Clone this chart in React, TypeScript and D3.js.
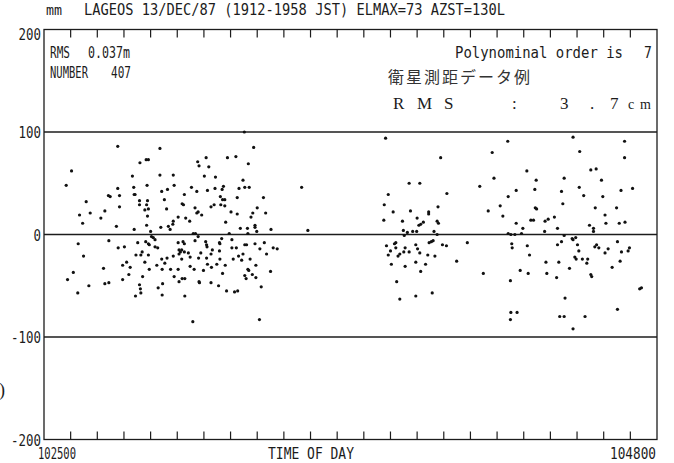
import React from "react";
import * as d3 from "d3";

// time in seconds after 10:25:00 (TIME OF DAY 102500), residual in mm
const burst1: [number, number][] = [
  [166,86],[261,84],[62,62],[216,70],[230,73],[235,73],[50,48],[199,57],[261,58],[291,58],[232,48],[293,48],[166,45],[202,46],[265,42],[278,44],[145,38],[149,37],[170,38],[203,39],[205,39],[95,32],[215,33],[233,33],[271,34],[215,29],[231,29],[170,27],[227,24],[235,25],[276,25],[80,19],[104,21],[137,23],[233,18],[128,16],[87,11],[291,13],[290,10],[163,8],[203,5],[231,9],[263,7],[280,8],[284,5],[240,3],
  [242,-2],[246,-3],[250,-5],[77,-9],[146,-6],[211,-8],[229,-7],[235,-9],[237,-10],[250,-12],[256,-13],[167,-13],[181,-12],[221,-17],[207,-20],[218,-20],[235,-20],[291,-21],[277,-23],[265,-24],[186,-27],[177,-30],[194,-32],[227,-27],[272,-28],[254,-30],[237,-34],[266,-34],[285,-34],[89,-21],[134,-33],[66,-37],[53,-44],[191,-39],[222,-41],[177,-44],[293,-41],[101,-50],[137,-48],[146,-47],[215,-49],[267,-48],[257,-52],[217,-53],[218,-57],[76,-57],[206,-60],[266,-59],
  [302,17],[302,-8],[304,-15],[304,-19],[302,-34],[304,-46],
];

const burst2: [number, number][] = [
  [472,85],[365,75],[346,71],[413,75],[432,76],[349,67],[371,66],[460,69],[361,57],[386,56],[448,53],[332,46],[344,42],[368,43],[385,45],[404,47],[401,44],[439,45],[452,46],[462,46],[316,39],[397,37],[402,34],[407,34],[435,36],[494,36],[311,30],[314,29],[340,26],[347,22],[344,21],[355,19],[376,27],[383,29],[398,29],[407,28],[421,22],[435,20],[480,26],[470,21],[499,21],[466,17],[319,16],[328,13],[409,12],[442,6],[458,6],[475,9],[475,7],[511,5],[459,1],[479,3],[451,100],
  [336,1],[341,1],[347,-2],[400,-4],[417,1],
  [313,-7],[316,-9],[340,-6],[364,-7],[366,-10],[395,-8],[396,-9],[423,-5],[452,-10],[456,-10],[475,-9],[496,-8],[310,-15],[307,-17],[316,-17],[325,-18],[367,-12],[379,-15],[395,-16],[423,-13],[433,-13],[516,-13],[525,-14],[501,-19],[486,-14],[353,-18],[310,-24],[329,-22],[348,-23],[366,-23],[376,-19],[396,-24],[426,-24],[438,-21],[448,-19],[445,-25],[464,-24],[338,-34],[329,-31],[359,-35],[368,-29],[377,-32],[389,-29],[408,-30],[459,-34],[461,-35],[477,-30],[510,-36],[349,-46],[350,-47],[376,-47],[393,-50],[402,-38],[411,-55],[429,-56],[436,-55],[452,-40],[455,-43],[469,-39],[477,-42],[489,-51],[311,-43],[317,-43],[317,-60],[335,-85],[485,-83],
];

const isolated: [number, number][] = [[580,46],[594,4]];

const burst3: [number, number][] = [
  [769,94],[893,75],[1009,80],[1013,55],[981,47],[822,50],[846,50],[775,39],[907,40],[766,29],[786,22],[825,23],[866,22],[866,20],[887,27],[1000,23],[1027,28],[765,14],[807,13],[840,16],[844,9],[848,10],[854,12],[885,13],[888,11],[809,4],[818,2],[830,3],[839,3],[878,3],[885,0],[811,-1],
  [771,-11],[789,-9],[792,-8],[792,-13],[780,-16],[775,-20],[797,-21],[801,-19],[810,-17],[813,-13],[822,-17],[837,-10],[841,-14],[846,-18],[864,-20],[867,-8],[872,-7],[876,-6],[880,-21],[897,-10],[906,-11],[953,-8],[782,-29],[813,-31],[837,-27],[848,-36],[859,-29],[929,-26],[989,-38],[794,-46],[801,-63],[837,-60],[874,-57],
];

const burst4: [number, number][] = [
  [1044,91],[1191,95],[1307,91],[1206,81],[1307,75],[1087,62],[1231,63],[1243,64],[1108,53],[1171,55],[1255,53],[1063,43],[1105,44],[1165,42],[1205,46],[1299,43],[1325,45],[1045,37],[1215,38],[1258,37],[1106,26],[1109,25],[1168,30],[1241,26],[1289,26],[1033,18],[1263,19],[1096,14],[1102,14],[1128,13],[1135,15],[1149,17],[1063,11],[1078,6],[1156,6],[1127,3],[1228,9],[1237,6],[1237,3],[1265,11],[1295,11],[1308,12],[1045,1],[1051,0],[1060,0],[1075,1],[1189,-4],[1191,-5],[1197,-3],[1171,-1],
  [1053,-9],[1054,-13],[1088,-11],[1093,-20],[1156,-10],[1165,-7],[1201,-10],[1204,-16],[1240,-12],[1244,-10],[1249,-13],[1263,-18],[1270,-14],[1291,-7],[1300,-17],[1315,-16],[1318,-13],[1195,-22],[1198,-24],[1212,-24],[1224,-24],[1222,-28],[1130,-27],[1159,-27],[1183,-33],[1279,-32],[1297,-26],[1072,-35],[1090,-38],[1132,-38],[1154,-42],[1231,-39],[1233,-41],[1050,-45],[1341,-53],[1345,-52],[1173,-62],[1291,-73],[1051,-76],[1065,-76],[1050,-83],[1161,-80],[1171,-80],[1218,-80],[1191,-92],
];

const yTicks = [200, 100, 0, -100, -200];
const yTickLabels = ["200", "100", "0", "-100", "-200"];
const refLines = [100, 0, -100];
const xDomain = [0, 1380];
const xTickStep = 60;
const xEndLabels = ["102500", "104800"];
const title = "LAGEOS 13/DEC/87 (1912-1958 JST) ELMAX=73 AZST=130L";

const MONO = "'DejaVu Sans Mono', monospace";
const INK = "#1c1c1c";

function T({ x, y, s, len, size = 13, anchor = "start" as any, sy = 1.25 }: any) {
  return (
    <text transform={`translate(${x},${y}) scale(1,${sy})`} x={0} y={0} fontSize={size} fontFamily={MONO}
      fill={INK} textAnchor={anchor}
      textLength={len} lengthAdjust={len ? "spacingAndGlyphs" : undefined}>{s}</text>
  );
}

export default function App() {
  const W = 674, H = 463;
  const L = 44, R = 657, TOP = 29.5, BOT = 439.5;
  const x = d3.scaleLinear().domain(xDomain).range([L, R]);
  const y = d3.scaleLinear().domain([-200, 200]).range([BOT, TOP]);
  const ticks = d3.range(xDomain[0] + xTickStep, xDomain[1], xTickStep);
  const pts = [...burst1, ...burst2, ...isolated, ...burst3, ...burst4];
  const rmsChars: [string, number][] = [["R",393],["M",417],["S",444],[":",512],["3",560],[".",590],["7",610],["c",628],["m",640]];

  return (
    <svg width={W} height={H} style={{ position: "absolute", left: 0, top: 0, background: "#fff" }}>
      <rect width={W} height={H} fill="#fff" />
      <rect x={L} y={TOP} width={R - L} height={BOT - TOP} fill="none" stroke={INK} strokeWidth={1.3} />
      {refLines.map((v) => (
        <line key={v} x1={L} x2={R} y1={y(v)} y2={y(v)} stroke={INK} strokeWidth={1.6} />
      ))}
      {ticks.map((t) => (
        <g key={t}>
          <line x1={x(t)} x2={x(t)} y1={TOP} y2={TOP + 8} stroke={INK} strokeWidth={1.2} />
          <line x1={x(t)} x2={x(t)} y1={BOT} y2={BOT - 8} stroke={INK} strokeWidth={1.2} />
        </g>
      ))}
      {pts.map((p, i) => (
        <circle key={i} cx={x(p[0])} cy={y(p[1])} r={1.6} fill="#111" />
      ))}
      <T x={46} y={15} s="mm" len={16} size={11} />
      <T x={84} y={15} s={title} len={421} size={13} />
      {yTicks.map((v, i) => (
        <T key={v} x={41} y={y(v) + (v === 200 ? 10 : 6)} s={yTickLabels[i]} len={yTickLabels[i].length * 7.5} anchor="end" size={12} />
      ))}
      <T x={38} y={459} s={xEndLabels[0]} len={38} size={12} />
      <T x={268} y={459} s="TIME OF DAY" len={86} size={12} />
      <T x={610} y={459} s={xEndLabels[1]} len={46} size={12} />
      <T x={50} y={58} s="RMS" len={20} size={12} />
      <T x={88} y={58} s="0.037m" len={42} size={12} />
      <T x={50} y={78} s="NUMBER" len={38} size={12} />
      <T x={111} y={78} s="407" len={20} size={12} />
      <T x={455} y={58} s="Polynominal order is" len={168} size={13} />
      <T x={644} y={58} s="7" size={13} />
      <text x={388} y={83} fontSize={16} fontFamily="'Noto Sans CJK JP', sans-serif" fill="#333" letterSpacing={2}>衛星測距データ例</text>
      {rmsChars.map(([c, px], i) => (
        <text key={i} x={px} y={109} fontSize={c === "c" || c === "m" ? 14 : 17} fontFamily="'Liberation Serif', serif" fill={INK}>{c}</text>
      ))}
      <text x={-1} y={396} fontSize={18} fontFamily="'Liberation Serif', serif" fill={INK}>)</text>
    </svg>
  );
}
